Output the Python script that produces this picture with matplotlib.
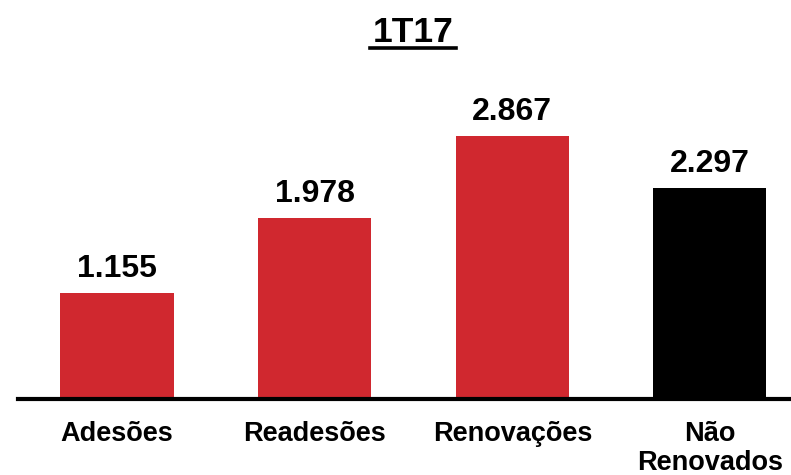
import matplotlib
matplotlib.use("Agg")
import matplotlib.pyplot as plt
from matplotlib.lines import Line2D

plt.rcParams['font.family'] = ['Liberation Sans', 'DejaVu Sans']

title = "1T17"
categories = ["Adesões", "Readesões", "Renovações", "Não\nRenovados"]
values = [1155, 1978, 2867, 2297]
value_labels = ["1.155", "1.978", "2.867", "2.297"]
colors = ["#D0282F", "#D0282F", "#D0282F", "#000000"]

W, H = 791, 475
fig = plt.figure(figsize=(W / 100, H / 100), dpi=100)
ax_left = 18 / W
ax_bottom = 76 / H
ax_h = 367 / H
ax = fig.add_axes([ax_left, ax_bottom, 1 - ax_left, ax_h])

x = list(range(len(categories)))
ax.bar(x, values, width=0.572, color=colors, zorder=2)
ax.set_xlim(-0.501, 3.41)
ax.set_ylim(0, 4000)

for s in ["top", "right", "left"]:
    ax.spines[s].set_visible(False)
ax.spines["bottom"].set_linewidth(3)
ax.spines["bottom"].set_color("black")
ax.spines["bottom"].set_zorder(3)
ax.set_yticks([])
ax.set_xticks([])

for xi, v, lab in zip(x, values, value_labels):
    ax.annotate(lab, (xi, v), xytext=(0, 11.5), textcoords="offset points",
                ha="center", va="baseline", fontsize=23, fontweight="bold")

for xi, cat in zip(x, categories):
    lines = cat.split("\n")
    for i, ln in enumerate(lines):
        y_px = 441 + i * 29
        ax.text(xi, (H - y_px) / H, ln, transform=ax.get_xaxis_transform().__class__(ax.transData, fig.transFigure),
                ha="center", va="baseline", fontsize=19.5, fontweight="bold")

t = fig.text(413 / W, (H - 41.7) / H, title, ha="center", va="baseline",
             fontsize=25.5, fontweight="bold")
fig.canvas.draw()
bb = t.get_window_extent()
uy = (H - 47.5) / H
fig.add_artist(Line2D([(bb.x0 - 3) / W, (bb.x1 + 3) / W], [uy, uy],
                      transform=fig.transFigure, color="black", lw=2.6))

fig.savefig("out.png", dpi=100)
